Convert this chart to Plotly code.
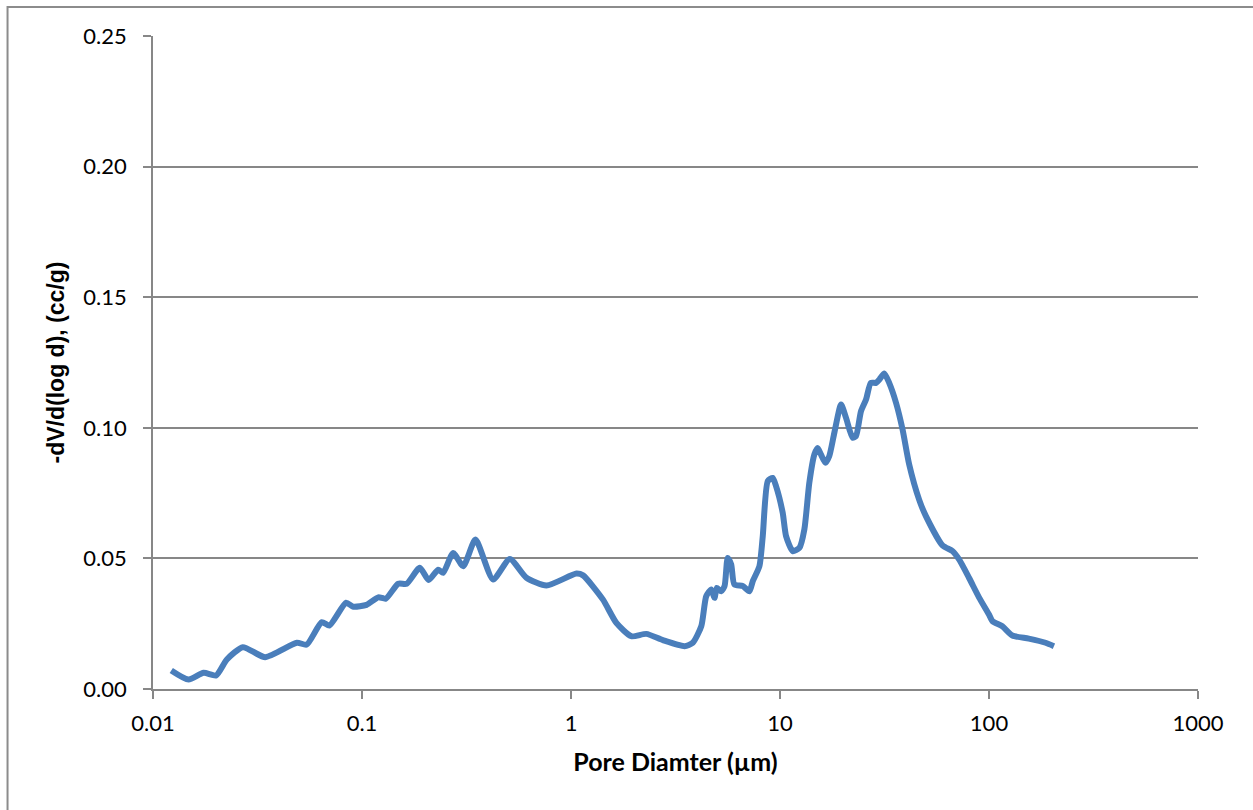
import plotly.graph_objects as go

# Pore size distribution: pore diameter (µm) vs -dV/d(log d) (cc/g)
pore_diameter = [
    0.01223, 0.0148, 0.01746, 0.02005, 0.02256, 0.0269, 0.0344, 0.0488, 0.0544,
    0.0642, 0.0698, 0.0839, 0.0909, 0.1052, 0.1196, 0.130, 0.149, 0.1636,
    0.189, 0.2084, 0.2314, 0.2445, 0.273, 0.305, 0.349, 0.424, 0.5095, 0.612,
    0.763, 1.061, 1.142, 1.42, 1.648, 1.944, 2.293, 2.752, 3.493, 3.826, 4.2,
    4.436, 4.69, 4.86, 4.985, 5.23, 5.43, 5.62, 5.84, 6.05, 6.63, 7.14, 7.41,
    7.97, 8.27, 8.74, 9.23, 9.58, 10.3, 10.69, 11.5, 12.38, 13.08, 13.81, 14.6,
    15.14, 15.7, 16.5, 17.2, 18.2, 19.6, 20.7, 22.25, 23.1, 24.4, 25.8, 27.2,
    28.8, 29.9, 31.55, 33.3, 35.9, 38.6, 41.5, 46.3, 49.9, 59.9, 66.8, 71.9,
    80.3, 89.7, 100.0, 103.8, 115.8, 129.4, 155.0, 186.5, 204.5,
]
dv_dlogd = [
    0.0071, 0.0036, 0.0062, 0.0052, 0.0113, 0.0160, 0.0122, 0.0177, 0.0170,
    0.0256, 0.0243, 0.0330, 0.0315, 0.0322, 0.0351, 0.0346, 0.0403, 0.0403,
    0.0464, 0.0417, 0.0457, 0.0445, 0.0521, 0.0470, 0.0572, 0.0419, 0.0498, 0.0426,
    0.0396, 0.0442, 0.0435, 0.0343, 0.0253, 0.0202, 0.0211, 0.0187, 0.0164, 0.0177, 0.0240,
    0.0355, 0.0381, 0.0349, 0.0387, 0.0374, 0.0394, 0.0502, 0.0477, 0.0400, 0.0394, 0.0374, 0.0413,
    0.0470, 0.0585, 0.0796, 0.0808, 0.0776, 0.0675, 0.0585, 0.0528, 0.0540, 0.0611, 0.0789, 0.0898,
    0.0923, 0.0898, 0.0866, 0.0891, 0.0981, 0.1089, 0.1038, 0.0962, 0.0968, 0.1063, 0.1108, 0.1172,
    0.1172, 0.1185, 0.1208, 0.1172, 0.1096, 0.0993, 0.0860, 0.0725, 0.0662, 0.0550, 0.0528, 0.0496,
    0.0425, 0.0350, 0.0285, 0.0260, 0.0240, 0.0205, 0.0193, 0.0177, 0.0164,
]

x_ticks = [0.01, 0.1, 1, 10, 100, 1000]
x_tick_text = ["0.01", "0.1", "1", "10", "100", "1000"]
y_ticks = [0.0, 0.05, 0.10, 0.15, 0.20, 0.25]
y_tick_text = ["0.00", "0.05", "0.10", "0.15", "0.20", "0.25"]

LINE_BLUE = "#4a7ebb"
GRID_GRAY = "#878787"
TICK_FONT = dict(family="Lato, Open Sans, sans-serif", size=22, color="#000000")

fig = go.Figure()
fig.add_trace(go.Scatter(
    x=pore_diameter,
    y=dv_dlogd,
    mode="lines",
    line=dict(color=LINE_BLUE, width=6, shape="spline", smoothing=0.6),
    hoverinfo="x+y",
    showlegend=False,
))

fig.update_xaxes(
    type="log",
    range=[-2, 3],
    tickvals=x_ticks,
    ticktext=x_tick_text,
    tickfont=TICK_FONT,
    ticks="outside",
    ticklen=8,
    tickwidth=1.5,
    tickcolor=GRID_GRAY,
    ticklabelstandoff=6,
    showline=True,
    linecolor=GRID_GRAY,
    linewidth=1.5,
    showgrid=False,
    zeroline=False,
    title=dict(
        text="<b>Pore Diamter (µm)</b>",
        font=dict(family="Lato, Open Sans, sans-serif", size=25, color="#000000"),
        standoff=18,
    ),
)
fig.update_yaxes(
    range=[0, 0.25],
    tickvals=y_ticks,
    ticktext=y_tick_text,
    tickfont=TICK_FONT,
    ticks="outside",
    ticklen=8,
    tickwidth=1.5,
    tickcolor=GRID_GRAY,
    ticklabelstandoff=12,
    showline=True,
    linecolor=GRID_GRAY,
    linewidth=1.5,
    showgrid=True,
    gridcolor=GRID_GRAY,
    gridwidth=1.5,
    zeroline=False,
    title=dict(
        text="<b>-dV/d(log d), (cc/g)</b>",
        font=dict(family="Liberation Sans, Arial, sans-serif", size=23, color="#000000"),
        standoff=12,
    ),
)

# Outer chart frame
fig.add_shape(
    type="rect", xref="paper", yref="paper",
    x0=-0.1392, x1=1.2, y0=-0.3, y1=1.0444,
    line=dict(color="#8c8c8c", width=2),
    fillcolor="rgba(0,0,0,0)",
    layer="below",
)

fig.update_layout(
    width=1253,
    height=810,
    margin=dict(l=153, r=55, t=36, b=121),
    paper_bgcolor="#ffffff",
    plot_bgcolor="#ffffff",
)

fig.write_html("out.html")
